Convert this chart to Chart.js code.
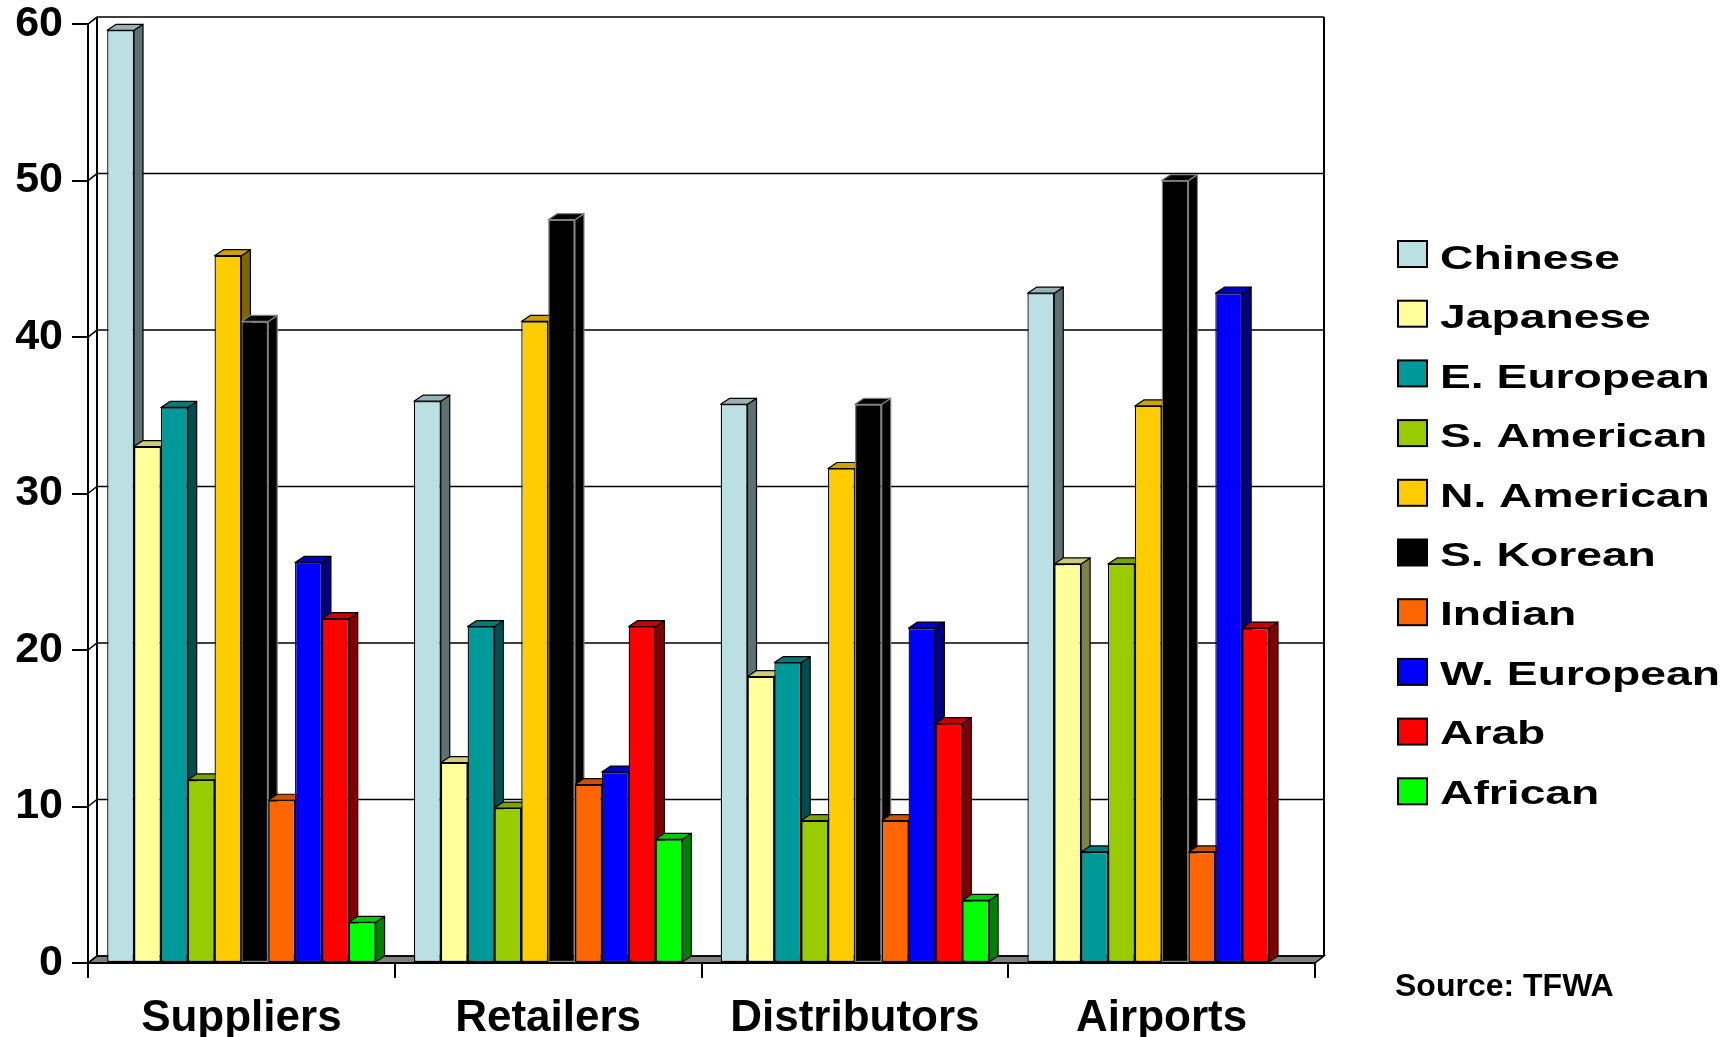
<!DOCTYPE html>
<html>
<head>
<meta charset="utf-8">
<title>Customer nationalities by channel</title>
<script src="https://cdn.jsdelivr.net/npm/chart.js@4.4.1/dist/chart.umd.min.js"></script>
<style>
  html, body { margin: 0; padding: 0; background: #ffffff; }
  #wrap { width: 1733px; height: 1037px; }
</style>
</head>
<body>
<div id="wrap"><canvas id="chart" width="1733" height="1037"></canvas></div>
<script>
// Channels on the x axis
const categories = ['Suppliers', 'Retailers', 'Distributors', 'Airports'];

// Nationality series (values per channel, same order as categories)
const seriesNames = ['Chinese', 'Japanese', 'E. European', 'S. American', 'N. American',
                     'S. Korean', 'Indian', 'W. European', 'Arab', 'African'];
const chinese    = [59.6, 35.9, 35.7, 42.8];
const japanese   = [33.0, 12.8, 18.3, 25.5];
const eEuropean  = [35.5, 21.5, 19.2, 7.1];
const sAmerican  = [11.7, 9.9, 9.1, 25.5];
const nAmerican  = [45.2, 41.0, 31.6, 35.6];
const sKorean    = [41.0, 47.5, 35.7, 50.0];
const indian     = [10.4, 11.4, 9.1, 7.1];
const wEuropean  = [25.6, 12.2, 21.4, 42.8];
const arab       = [22.0, 21.5, 15.3, 21.4];
const african    = [2.6, 7.9, 4.0, 0];
const seriesValues = [chinese, japanese, eEuropean, sAmerican, nAmerican,
                      sKorean, indian, wEuropean, arab, african];

// Value axis ticks
const yTicks = [0, 10, 20, 30, 40, 50, 60];
const sourceNote = 'Source: TFWA';

// Styling: front, side and top face colours of each series
const frontColors = ['#BBE0E3', '#FFFF99', '#009999', '#99CC00', '#FFCC00',
                     '#000000', '#FF6600', '#0000FF', '#FF0000', '#00FF00'];
const sideColors  = ['#5E7072', '#80804D', '#004D4D', '#4D6600', '#806600',
                     '#000000', '#803300', '#000080', '#800000', '#008000'];
const topColors   = ['#96B3B6', '#CCCC7A', '#007A7A', '#7AA300', '#CCA300',
                     '#000000', '#CC5200', '#0000CC', '#CC0000', '#00CC00'];
const edgeColors  = ['#000', '#000', '#000', '#000', '#000',
                     '#7f7f7f', '#000', '#000', '#000', '#000'];

const FONT = "'Liberation Sans', Arial, sans-serif";
const WALL_DX = 9, WALL_DY = 7;   // depth of the back wall / floor
const BAR_DX = 9, BAR_DY = 6;     // depth of each bar

// Back wall, left wall grid diagonals and floor
const wallsPlugin = {
  id: 'walls',
  beforeDraw(chart) {
    const { ctx, chartArea: a, scales: { y } } = chart;
    ctx.save();
    ctx.fillStyle = '#ffffff';
    ctx.fillRect(0, 0, chart.width, chart.height);
    const bl = a.left + WALL_DX, br = a.right + WALL_DX;
    const bt = a.top - WALL_DY, bb = a.bottom - WALL_DY;

    // floor
    ctx.beginPath();
    ctx.moveTo(a.left, a.bottom);
    ctx.lineTo(a.right, a.bottom);
    ctx.lineTo(br, bb);
    ctx.lineTo(bl, bb);
    ctx.closePath();
    ctx.fillStyle = '#808080';
    ctx.fill();
    ctx.strokeStyle = '#000';
    ctx.lineWidth = 1.5;
    ctx.stroke();

    // grid lines: diagonal across the left wall, then across the back wall
    ctx.lineWidth = 1.5;
    y.ticks.forEach(t => {
      const py = y.getPixelForValue(t.value);
      ctx.beginPath();
      ctx.moveTo(a.left, py);
      ctx.lineTo(bl, py - WALL_DY);
      ctx.lineTo(br, py - WALL_DY);
      ctx.stroke();
    });

    // back wall vertical edges
    ctx.lineWidth = 2;
    ctx.beginPath();
    ctx.moveTo(bl, bt); ctx.lineTo(bl, bb);
    ctx.moveTo(br, bt); ctx.lineTo(br, bb);
    ctx.stroke();
    ctx.restore();
  }
};

// Side and top faces of every bar, drawn before the front faces
const barDepthPlugin = {
  id: 'barDepth',
  beforeDatasetsDraw(chart) {
    const ctx = chart.ctx;
    ctx.save();
    ctx.lineWidth = 1.2;
    ctx.lineJoin = 'round';
    chart.data.datasets.forEach((ds, i) => {
      const meta = chart.getDatasetMeta(i);
      if (meta.hidden) return;
      meta.data.forEach((bar, j) => {
        if (!ds.data[j]) return;
        const { x, y, base, width } = bar.getProps(['x', 'y', 'base', 'width'], true);
        const L = x - width / 2, R = x + width / 2;
        ctx.strokeStyle = edgeColors[i];
        // right side face
        ctx.beginPath();
        ctx.moveTo(R, y);
        ctx.lineTo(R + BAR_DX, y - BAR_DY);
        ctx.lineTo(R + BAR_DX, base - BAR_DY);
        ctx.lineTo(R, base);
        ctx.closePath();
        ctx.fillStyle = sideColors[i];
        ctx.fill();
        ctx.stroke();
        // top face
        ctx.beginPath();
        ctx.moveTo(L, y);
        ctx.lineTo(L + BAR_DX, y - BAR_DY);
        ctx.lineTo(R + BAR_DX, y - BAR_DY);
        ctx.lineTo(R, y);
        ctx.closePath();
        ctx.fillStyle = topColors[i];
        ctx.fill();
        ctx.stroke();
      });
    });
    ctx.restore();
  }
};

// Legend with widened lettering, plus the source note
const legendPlugin = {
  id: 'sideLegend',
  afterDraw(chart) {
    const ctx = chart.ctx;
    ctx.save();
    const boxX = 1398, boxW = 29, boxH = 26, firstBoxY = 241, boxStep = 59.7;
    const textX = 1440, firstBaseline = 269, textStep = 59.4;
    chart.data.datasets.forEach((ds, i) => {
      const by = firstBoxY + i * boxStep;
      ctx.fillStyle = ds.backgroundColor;
      ctx.fillRect(boxX, by, boxW, boxH);
      ctx.strokeStyle = '#000';
      ctx.lineWidth = 2;
      ctx.strokeRect(boxX, by, boxW, boxH);
      ctx.save();
      ctx.translate(textX, firstBaseline + i * textStep);
      ctx.scale(1.36, 1);
      ctx.font = `bold 34px ${FONT}`;
      ctx.fillStyle = '#000';
      ctx.textBaseline = 'alphabetic';
      ctx.textAlign = 'left';
      ctx.fillText(ds.label, 0, 0);
      ctx.restore();
    });
    ctx.font = `bold 32px ${FONT}`;
    ctx.fillStyle = '#000';
    ctx.textBaseline = 'alphabetic';
    ctx.textAlign = 'left';
    ctx.fillText(sourceNote, 1395, 996);
    ctx.restore();
  }
};

const datasets = seriesNames.map((name, i) => ({
  label: name,
  data: seriesValues[i],
  backgroundColor: frontColors[i],
  borderColor: edgeColors[i],
  borderWidth: 1.3,
  borderSkipped: false,
  barPercentage: 1.0,
  categoryPercentage: 0.875
}));

new Chart(document.getElementById('chart'), {
  type: 'bar',
  data: { labels: categories, datasets },
  options: {
    responsive: false,
    animation: false,
    events: [],
    layout: { padding: { top: 24, right: 418, bottom: 0, left: 0 } },
    plugins: {
      legend: { display: false },
      tooltip: { enabled: false }
    },
    scales: {
      x: {
        offset: true,
        grid: { offset: true, drawOnChartArea: false, drawTicks: true, tickLength: 15, color: '#000', lineWidth: 2 },
        border: { display: true, color: '#000', width: 2 },
        ticks: { color: '#000', padding: 14, font: { family: FONT, size: 44, weight: 'bold', lineHeight: 1.2 } },
        afterFit(s) { s.height = 74; }
      },
      y: {
        min: yTicks[0],
        max: yTicks[yTicks.length - 1],
        afterBuildTicks(s) { s.ticks = yTicks.map(v => ({ value: v })); },
        grid: { drawOnChartArea: false, drawTicks: true, tickLength: 16, color: '#000', lineWidth: 2 },
        border: { display: true, color: '#000', width: 2 },
        ticks: { color: '#000', padding: 9, font: { family: FONT, size: 43, weight: 'bold', lineHeight: 0.7 } },
        afterFit(s) { s.width = 88; }
      }
    }
  },
  plugins: [wallsPlugin, barDepthPlugin, legendPlugin]
});
</script>
</body>
</html>
